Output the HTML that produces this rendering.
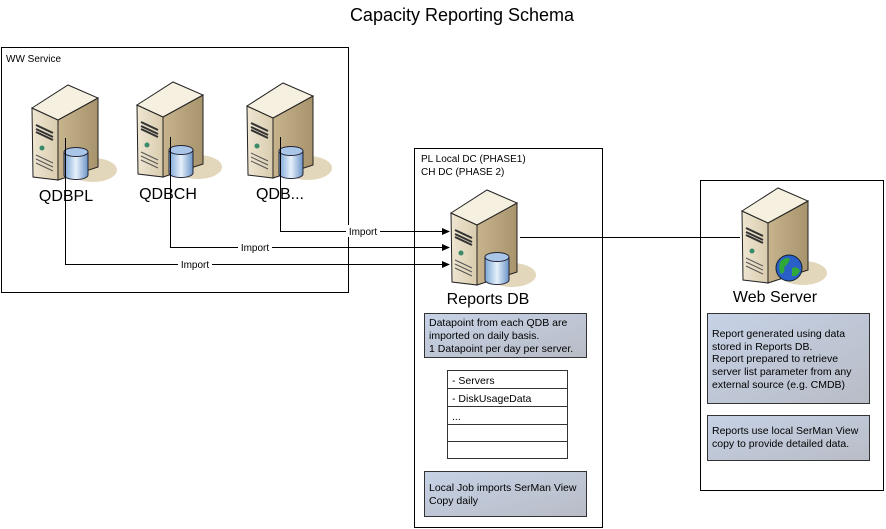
<!DOCTYPE html>
<html><head><meta charset="utf-8"><style>
body{margin:0;width:886px;height:529px;background:#fff;overflow:hidden}
svg{display:block;font-family:"Liberation Sans",Arial,sans-serif}
</style></head><body>
<svg width="886" height="529" viewBox="0 0 886 529" xmlns="http://www.w3.org/2000/svg">
<defs>
<linearGradient id="lf" x1="0" x2="1"><stop offset="0" stop-color="#efe6d2"/><stop offset="1" stop-color="#d9ccae"/></linearGradient>
<linearGradient id="rf" x1="0" x2="1"><stop offset="0" stop-color="#c8b48c"/><stop offset="1" stop-color="#a8946c"/></linearGradient>
<linearGradient id="cy" x1="0" x2="1"><stop offset="0" stop-color="#7aa6d6"/><stop offset="0.5" stop-color="#e6f0fa"/><stop offset="1" stop-color="#6b95c8"/></linearGradient>
<linearGradient id="nb" x1="0" y1="0" x2="1" y2="1"><stop offset="0" stop-color="#c6d2e6"/><stop offset="1" stop-color="#b8bcc6"/></linearGradient>
<g id="srv">
<ellipse cx="62" cy="85" rx="24" ry="12" fill="#e3d7bb"/>
<polygon points="27,35 67,13 67,82 27,95" fill="url(#rf)" stroke="#222" stroke-width="1"/>
<polygon points="1,23 27,35 27,95 2,92" fill="url(#lf)" stroke="#222" stroke-width="1"/>
<polygon points="1,23 37,0 67,13 27,35" fill="#f6f0e0" stroke="#222" stroke-width="1"/>
<path d="M5,40 L22,48 M5,44 L22,52 M5,47 L22,55" stroke="#333" stroke-width="2"/>
<circle cx="11" cy="63" r="2.5" fill="#3a8a6a"/>
<path d="M5,70 L22,78 M5,74 L22,82 M5,78 L22,86" stroke="#555" stroke-width="1"/>
</g>
<g id="cyl">
<path d="M0,5 L0,28 A12,4.5 0 0 0 24,28 L24,5" fill="url(#cy)" stroke="#223" stroke-width="1"/>
<ellipse cx="12" cy="5" rx="12" ry="4.5" fill="#a9c6e8" stroke="#223" stroke-width="1"/>
</g>
</defs>
<text x="462" y="21" font-size="18" text-anchor="middle">Capacity Reporting Schema</text>

<rect x="1.5" y="47.5" width="347" height="245" fill="none" stroke="#000"/>
<text x="6" y="62" font-size="10">WW Service</text>
<rect x="414.5" y="148.5" width="188" height="379" fill="none" stroke="#000"/>
<text x="421" y="162" font-size="10">PL Local DC (PHASE1)</text>
<text x="421" y="175" font-size="10">CH DC (PHASE 2)</text>
<rect x="700.5" y="180.5" width="183" height="310" fill="none" stroke="#000"/>

<use href="#srv" x="31" y="85"/><use href="#cyl" x="64" y="147"/>
<use href="#srv" x="136" y="82"/><use href="#cyl" x="169" y="145"/>
<use href="#srv" x="246" y="83"/><use href="#cyl" x="279" y="146"/>
<text x="66" y="201" font-size="16" text-anchor="middle">QDBPL</text>
<text x="168" y="199" font-size="16" text-anchor="middle">QDBCH</text>
<text x="280" y="199" font-size="16" text-anchor="middle">QDB...</text>

<use href="#srv" x="450" y="190"/><use href="#cyl" x="485" y="252"/>
<text x="488" y="304" font-size="16" text-anchor="middle">Reports DB</text>

<use href="#srv" x="741" y="188"/>
<circle cx="789" cy="268" r="13" fill="#2a5fc8" stroke="#123" stroke-width="1"/>
<path d="M780,262 q5,-6 10,-3 q-2,6 -6,8 q2,5 -3,7 q-3,-5 -1,-12z M792,268 q6,-2 8,3 q-3,6 -8,5z" fill="#2fa83a"/>
<text x="775" y="302" font-size="16" text-anchor="middle">Web Server</text>

<g stroke="#000" stroke-width="1" fill="none">
<path d="M280.5,137 V231.5 H444"/>
<path d="M170.5,137 V247.5 H444"/>
<path d="M65.5,138 V264.5 H444"/>
<path d="M520,237.5 H740"/>
</g>
<g fill="#000">
<polygon points="450,231.5 442,228 442,235"/>
<polygon points="450,247.5 442,244 442,251"/>
<polygon points="450,264.5 442,261 442,268"/>
</g>
<g font-size="10" text-anchor="middle">
<rect x="346" y="225" width="34" height="12" fill="#fff"/><text x="363" y="235">Import</text>
<rect x="238" y="241" width="34" height="12" fill="#fff"/><text x="255" y="251">Import</text>
<rect x="178" y="258" width="34" height="12" fill="#fff"/><text x="195" y="268">Import</text>
</g>

<g stroke="#333" stroke-width="1">
<rect x="424.5" y="313.5" width="162" height="44" fill="url(#nb)"/>
<rect x="424.5" y="471.5" width="162" height="45" fill="url(#nb)"/>
<rect x="707.5" y="313.5" width="162" height="90" fill="url(#nb)"/>
<rect x="707.5" y="415.5" width="162" height="45" fill="url(#nb)"/>
<rect x="447.5" y="370.5" width="120" height="88" fill="#fff"/>
<path d="M447,388.5 H567 M447,406.5 H567 M447,424.5 H567 M447,441.5 H567" fill="none"/>
</g>
<g font-size="10.5">
<text x="429" y="326">Datapoint from each QDB are</text>
<text x="429" y="339">imported on daily basis.</text>
<text x="429" y="352">1 Datapoint per day per server.</text>
<text x="452" y="384">- Servers</text>
<text x="452" y="402">- DiskUsageData</text>
<text x="452" y="420">...</text>
<text x="429" y="491">Local Job imports SerMan View</text>
<text x="429" y="504">Copy daily</text>
<text x="712" y="337">Report generated using data</text>
<text x="712" y="350">stored in Reports DB.</text>
<text x="712" y="362">Report prepared to retrieve</text>
<text x="712" y="375">server list parameter from any</text>
<text x="712" y="388">external source (e.g. CMDB)</text>
<text x="712" y="434">Reports use local SerMan View</text>
<text x="712" y="447">copy to provide detailed data.</text>
</g>
</svg>
</body></html>
